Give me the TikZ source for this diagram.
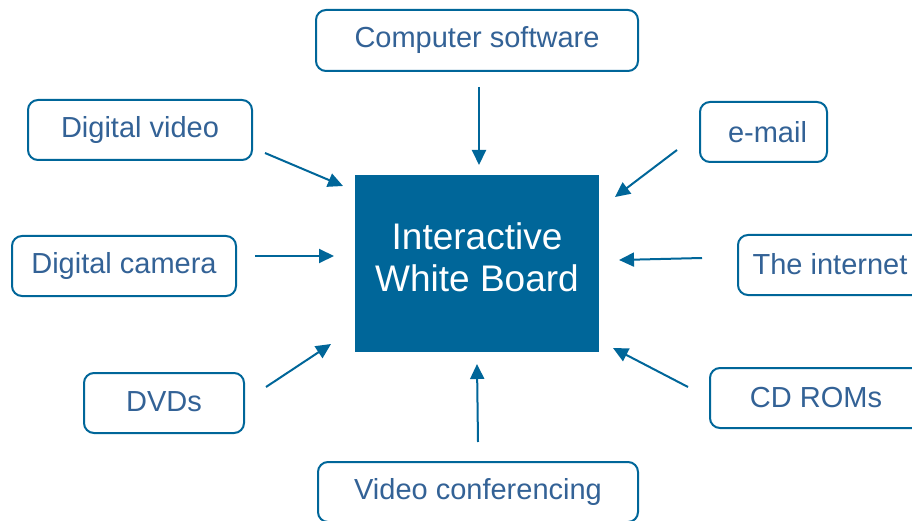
\documentclass[tikz,border=0pt]{standalone}
\usepackage{fontspec}
\setmainfont{Liberation Sans}
\usetikzlibrary{arrows.meta}
\definecolor{iwbblue}{RGB}{0,102,153}
\definecolor{txtblue}{RGB}{51,98,150}
\tikzset{
  srcbox/.style={draw=iwbblue, line width=2pt, rounded corners=10pt, fill=white,
    text=txtblue, font=\fontsize{29}{34}\selectfont, inner sep=0pt, anchor=center},
  mainbox/.style={fill=iwbblue, inner sep=0pt, minimum width=244pt, minimum height=177pt},
  maintext/.style={text=white, align=center, inner sep=0pt,
    font=\fontsize{37}{42}\selectfont},
  feed/.style={draw=iwbblue, line width=2pt, -{Triangle[length=15pt,width=14pt]}}
}
\begin{document}
\begin{tikzpicture}[x=1pt,y=-1pt]
\useasboundingbox (0,0) rectangle (912,521);
\node[mainbox] (iwb) at (477,263.5) {};
\node[maintext] (iwbtext) at (477,257) {Interactive\\White Board};
\node[srcbox, minimum width=322pt, minimum height=61pt] (cs) at (477,40.5) {Computer software};
\node[srcbox, minimum width=224pt, minimum height=60pt] (dv) at (140,130) {Digital video};
\node[srcbox, minimum width=127pt, minimum height=60pt] (em) at (763.5,132) {\hspace*{8pt}e-mail\raisebox{3pt}{}};
\node[srcbox, minimum width=224pt, minimum height=60pt] (dc) at (124,266) {Digital camera};
\node[srcbox, minimum width=184pt, minimum height=60pt] (ti) at (830,265) {\raisebox{2pt}{The internet}};
\node[srcbox, minimum width=212pt, minimum height=60pt] (cd) at (816,398) {\raisebox{2pt}{CD ROMs}};
\node[srcbox, minimum width=160pt, minimum height=60pt] (dvd) at (164,403) {\raisebox{2pt}{DVDs}};
\node[srcbox, minimum width=320pt, minimum height=60pt] (vc) at (478,492) {Video conferencing};
% arrow end points
\coordinate (csA) at (479,87);  \coordinate (csB) at (479,165);
\coordinate (dvA) at (265,153); \coordinate (dvB) at (343,186);
\coordinate (dcA) at (255,256); \coordinate (dcB) at (334,256);
\coordinate (emA) at (677,150); \coordinate (emB) at (615,197);
\coordinate (tiA) at (702,258); \coordinate (tiB) at (619,260);
\coordinate (cdA) at (688,387); \coordinate (cdB) at (613,348);
\coordinate (vcA) at (478,442); \coordinate (vcB) at (477,364);
\coordinate (dvdA) at (266,387); \coordinate (dvdB) at (331,344);
\draw[feed] (csA) -- (csB);
\draw[feed] (dvA) -- (dvB);
\draw[feed] (dcA) -- (dcB);
\draw[feed] (emA) -- (emB);
\draw[feed] (tiA) -- (tiB);
\draw[feed] (cdA) -- (cdB);
\draw[feed] (vcA) -- (vcB);
\draw[feed] (dvdA) -- (dvdB);
\end{tikzpicture}
\end{document}
